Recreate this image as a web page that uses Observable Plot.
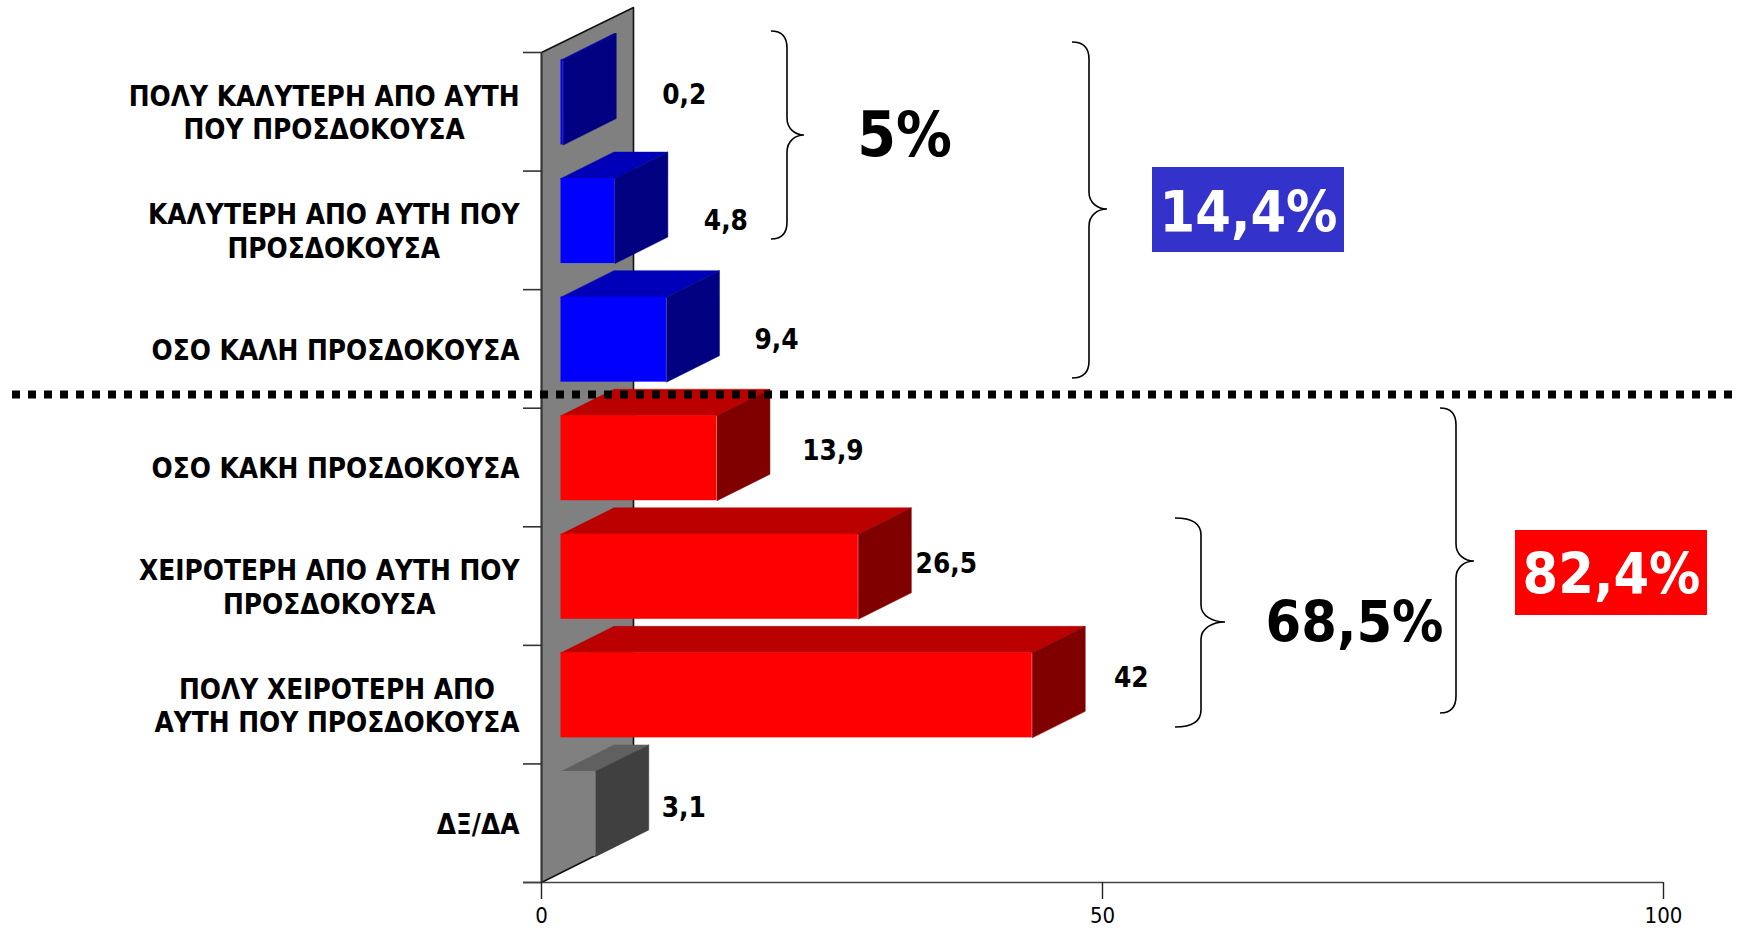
<!DOCTYPE html>
<html><head><meta charset="utf-8">
<script src="https://cdn.jsdelivr.net/npm/d3@7"></script>
<script src="https://cdn.jsdelivr.net/npm/@observablehq/plot@0.6"></script>
<style>html,body{margin:0;padding:0;background:#fff;overflow:hidden}svg{display:block;max-width:none}</style>
</head><body><div id="chart"></div>
<script>
const categories = [
  "ΠΟΛΥ ΚΑΛΥΤΕΡΗ ΑΠΟ ΑΥΤΗ\nΠΟΥ ΠΡΟΣΔΟΚΟΥΣΑ",
  "ΚΑΛΥΤΕΡΗ ΑΠΟ ΑΥΤΗ ΠΟΥ\nΠΡΟΣΔΟΚΟΥΣΑ",
  "ΟΣΟ ΚΑΛΗ ΠΡΟΣΔΟΚΟΥΣΑ",
  "ΟΣΟ ΚΑΚΗ ΠΡΟΣΔΟΚΟΥΣΑ",
  "ΧΕΙΡΟΤΕΡΗ ΑΠΟ ΑΥΤΗ ΠΟΥ\nΠΡΟΣΔΟΚΟΥΣΑ",
  "ΠΟΛΥ ΧΕΙΡΟΤΕΡΗ ΑΠΟ\nΑΥΤΗ ΠΟΥ ΠΡΟΣΔΟΚΟΥΣΑ",
  "ΔΞ/ΔΑ"
];
const values = [0.2, 4.8, 9.4, 13.9, 26.5, 42, 3.1];
const valueLabels = ["0,2", "4,8", "9,4", "13,9", "26,5", "42", "3,1"];
const groups = ["blue", "blue", "blue", "red", "red", "red", "gray"];
const xTicks = [0, 50, 100];

// ---- styling / layout ----
const FONT = "'DejaVu Sans Condensed', 'DejaVu Sans', sans-serif";
const LABEL_SIZE = 27.7;
const palette = {
  blue: {front: "#0000ff", top: "#0000b8", side: "#000080"},
  red:  {front: "#ff0000", top: "#bb0000", side: "#800000"},
  gray: {front: "#808080", top: "#606060", side: "#404040"}
};
const W = 1737, H = 928, L = 541, R = 1663, T = 52, B = 882;
const pxX = (R - L) / 100, pxY = (B - T) / 7;
const X = p => (p - L) / pxX, Y = p => (p - T) / pxY;   // page pixel -> scale units
const OFFX = 19.5 / pxX, DEPX = 53 / pxX, DEPY = 26.5 / pxY, TOPY = 7.5 / pxY, HY = 85 / pxY;
const labelNudgeX = [68, 58, 57, 63, 35, 46, 35];
const labelNudgeY = [43, 50, 50, 43, 37, 33, 44];

const rows = categories.map((c, i) => ({i, c, v: values[i], lab: valueLabels[i], g: groups[i]}));

const face = (kind) => rows.flatMap(r => {
  const x0 = OFFX, x1 = OFFX + r.v, y0 = r.i + TOPY, y1 = y0 + HY;
  const pts = kind === "top"
    ? [[x0, y0], [x1, y0], [x1 + DEPX, y0 - DEPY], [x0 + DEPX, y0 - DEPY]]
    : [[x1, y0], [x1 + DEPX, y0 - DEPY], [x1 + DEPX, y1 - DEPY], [x1, y1]];
  return pts.concat([pts[0]]).map(([x, y]) => ({x, y, id: kind + r.i, color: palette[r.g][kind]}));
});

const wall = [[0, 0], [X(633), Y(7)], [X(633), Y(836)], [0, 7], [0, 0]].map(([x, y]) => ({x, y}));

const canvas = document.createElement("canvas").getContext("2d");
canvas.font = `bold ${LABEL_SIZE}px ${FONT}`;
const labelRight = 519;
const labelCenter = r => {
  const w = Math.max(...r.c.split("\n").map(s => canvas.measureText(s).width));
  return X(labelRight - w / 2);
};

const braces = [
  {xl: 771, xs: 787, xt: 804, top: 31, mid: 135, bot: 239},
  {xl: 1072, xs: 1089, xt: 1107, top: 42, mid: 209, bot: 378},
  {xl: 1175, xs: 1201, xt: 1225, top: 518, mid: 622, bot: 727},
  {xl: 1440, xs: 1456, xt: 1474, top: 408, mid: 561, bot: 713}
];
const braceMark = () => {
  const g = d3.create("svg:g").attr("fill", "none").attr("stroke", "#000").attr("stroke-width", 1.6);
  for (const b of braces) {
    const r = 17, w = b.xs - b.xl, t = b.xt - b.xs;
    g.append("path").attr("d",
      `M${b.xl},${b.top} C${b.xs - w * 0.3},${b.top} ${b.xs},${b.top + r * 0.4} ${b.xs},${b.top + r}
       L${b.xs},${b.mid - r} C${b.xs},${b.mid - r * 0.35} ${b.xs + t * 0.5},${b.mid} ${b.xt},${b.mid}
       C${b.xs + t * 0.5},${b.mid} ${b.xs},${b.mid + r * 0.35} ${b.xs},${b.mid + r}
       L${b.xs},${b.bot - r} C${b.xs},${b.bot - r * 0.4} ${b.xs - w * 0.3},${b.bot} ${b.xl},${b.bot}`);
  }
  return g.node();
};

const callouts = [
  {t: "5%", x: 904, y: 155, fill: "#000", size: 62},
  {t: "68,5%", x: 1354, y: 641, fill: "#000", size: 57},
  {t: "14,4%", x: 1248, y: 231, fill: "#fff", size: 57},
  {t: "82,4%", x: 1611, y: 593, fill: "#fff", size: 57}
];
const boxes = [
  {x1: 1152, x2: 1344, y1: 167, y2: 252, fill: "#3333cc"},
  {x1: 1515, x2: 1707, y1: 530, y2: 615, fill: "#ff0000"}
];

const plot = Plot.plot({
  width: W, height: H,
  marginLeft: L, marginRight: W - R, marginTop: T, marginBottom: H - B,
  style: {background: "#fff", fontFamily: FONT, overflow: "visible"},
  x: {domain: [0, 100], axis: null},
  y: {domain: [0, 7], range: [T, B], axis: null},
  marks: [
    // back wall
    Plot.line(wall, {x: "x", y: "y", fill: "#808080", stroke: "#111", strokeWidth: 1.6, curve: "linear"}),
    // category ticks and axis line
    Plot.ruleY(d3.range(0, 8), {y: d => d, x1: X(523), x2: 0, stroke: "#333", strokeWidth: 1.6}),
    Plot.ruleX([0], {y1: 0, y2: 7, stroke: "#333", strokeWidth: 1.6}),
    Plot.ruleY([7], {x1: X(523), x2: 100, stroke: "#444", strokeWidth: 1.6}),
    Plot.axisX(xTicks, {anchor: "bottom", tickSize: 17, tickPadding: 8, fontSize: 22, label: null,
      tickFormat: d => String(d), fill: "#000", stroke: "#222", strokeWidth: 1.4}),
    // 3-D bars: top and side faces, then the front
    Plot.line(face("top"), {x: "x", y: "y", z: "id", fill: "color", stroke: "color", strokeWidth: 0.5}),
    Plot.line(face("side"), {x: "x", y: "y", z: "id", fill: "color", stroke: "color", strokeWidth: 0.5}),
    Plot.rect(rows, {x1: OFFX, x2: r => OFFX + r.v, y1: r => r.i + TOPY, y2: r => r.i + TOPY + HY,
      fill: r => palette[r.g].front}),
    // category labels
    Plot.text(rows, {x: labelCenter, y: r => r.i + 0.5, text: "c", textAnchor: "middle",
      fontSize: LABEL_SIZE, fontWeight: "bold", lineHeight: 1.22, fill: "#000"}),
    // value labels
    Plot.text(rows, {x: r => OFFX + r.v + DEPX + labelNudgeX[r.i] / pxX, y: r => r.i + labelNudgeY[r.i] / pxY,
      text: "lab", textAnchor: "middle", fontSize: LABEL_SIZE, fontWeight: "bold", fill: "#000"}),
    // annotations
    braceMark,
    Plot.rect(boxes, {x1: d => X(d.x1), x2: d => X(d.x2), y1: d => Y(d.y1), y2: d => Y(d.y2), fill: "fill"}),
    ...callouts.map(c => Plot.text([c], {x: d => X(d.x), y: d => Y(d.y), text: "t", fill: "fill", textAnchor: "middle",
      lineAnchor: "bottom", fontSize: c.size, fontWeight: "bold"})),
    Plot.ruleY([Y(394)], {x1: X(12), x2: X(1737), stroke: "#000", strokeWidth: 8, strokeDasharray: "8,8"})
  ]
});
document.getElementById("chart").appendChild(plot);
</script></body></html>
